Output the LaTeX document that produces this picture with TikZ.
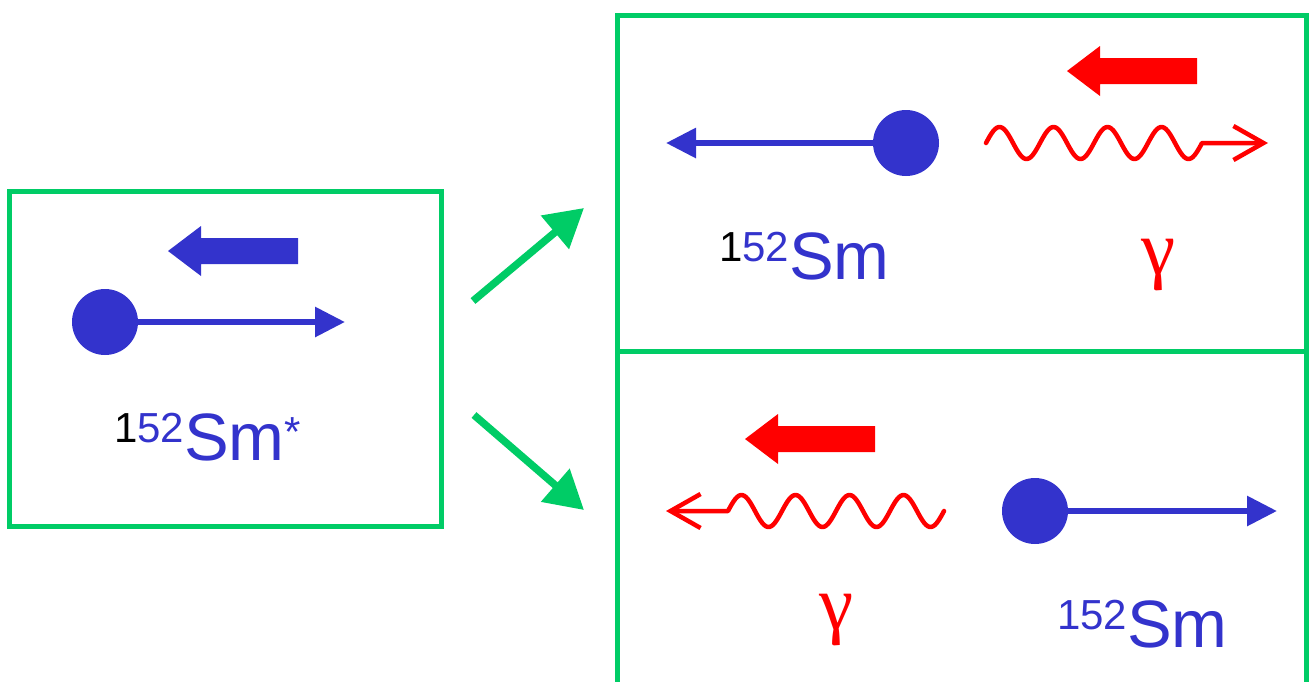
\documentclass[tikz,border=0pt]{standalone}
\usepackage{fontspec}
\setmainfont{Liberation Sans}
\newfontfamily\gfont{Liberation Serif}
\usetikzlibrary{arrows.meta}
\definecolor{smblue}{RGB}{51,51,204}
\definecolor{boxgreen}{RGB}{0,204,102}
\definecolor{gred}{RGB}{255,0,0}
\tikzset{
  frame/.style={draw=boxgreen, line width=5pt},
  ball/.style={circle, fill=smblue, minimum size=66pt, inner sep=0pt},
  blueline/.style={draw=smblue, line width=6pt, -{Triangle[length=30pt,width=29pt]}},
  redwave/.style={draw=gred, line width=4.5pt, line cap=round, line join=round, -{Straight Barb[length=30pt,width=34pt]}},
  greenarrow/.style={draw=boxgreen, line width=7.5pt, -{Triangle[length=38pt,width=42pt]}},
  lab/.style={inner sep=0pt, anchor=base west, text=smblue, font=\fontsize{67}{67}\selectfont},
  glab/.style={inner sep=0pt, anchor=base, text=gred, font=\gfont\fontsize{77}{77}\selectfont},
  fatarrow/.pic={\fill[#1] (0,0) -- (33,-25) -- (33,-13) -- (130,-13) -- (130,13) -- (33,13) -- (33,25) -- cycle;}
}
\newcommand{\supr}[1]{{\fontsize{42}{42}\selectfont\raisebox{18pt}{#1}}}
\newcommand{\supast}{{\fontsize{42}{42}\selectfont\raisebox{14pt}{*}}}
\begin{document}
\begin{tikzpicture}[x=1pt,y=-1pt]
\useasboundingbox (0,0) rectangle (1314,681);
\clip (0,0) rectangle (1314,681);
% boxes
\node[frame, minimum width=432pt, minimum height=335pt, inner sep=0pt] (boxL) at (225,358.5) {};
\node[frame, minimum width=689pt, minimum height=336pt, inner sep=0pt] (boxT) at (961.5,183) {};
\node[frame, minimum width=689pt, minimum height=360pt, inner sep=0pt] (boxB) at (961.5,531) {};
% left box
\pic at (168,251) {fatarrow=smblue};
\node[ball] (b0) at (105,322) {};
\coordinate (t0) at (345,322);
\draw[blueline] (b0.center) -- (t0);
\node[lab] (l0) at (114,460) {\supr{\textcolor{black}{1}52}Sm\supast};
% green arrows
\coordinate (g1s) at (473,301);
\coordinate (g1e) at (584,208);
\coordinate (g2s) at (474,415);
\coordinate (g2e) at (584,510);
\draw[greenarrow] (g1s) -- (g1e);
\draw[greenarrow] (g2s) -- (g2e);
% top right box
\pic at (1067,71) {fatarrow=gred};
\node[ball] (b1) at (906,143) {};
\coordinate (t1) at (666,143);
\draw[blueline] (b1.center) -- (t1);
\coordinate (w1e) at (1268,143);
\draw[redwave] plot[domain=986:1202, samples=120, smooth] (\x,{143-16*sin((\x-986)/54*360)}) -- (w1e);
\node[lab] (l1) at (719,279) {\supr{\textcolor{black}{1}52}Sm};
\node[glab] (g1) at (1158,274) {γ};
% bottom right box
\pic at (745,439) {fatarrow=gred};
\node[ball] (b2) at (1035,511) {};
\coordinate (t2) at (1277,511);
\draw[blueline] (b2.center) -- (t2);
\coordinate (w2e) at (666,511);
\draw[redwave] plot[domain=944:728, samples=120, smooth] (\x,{511-16*sin((\x-728)/54*360)}) -- (w2e);
\node[glab] (g2) at (837,629) {γ};
\node[lab] (l2) at (1057,647) {\supr{152}Sm};
\end{tikzpicture}
\end{document}
